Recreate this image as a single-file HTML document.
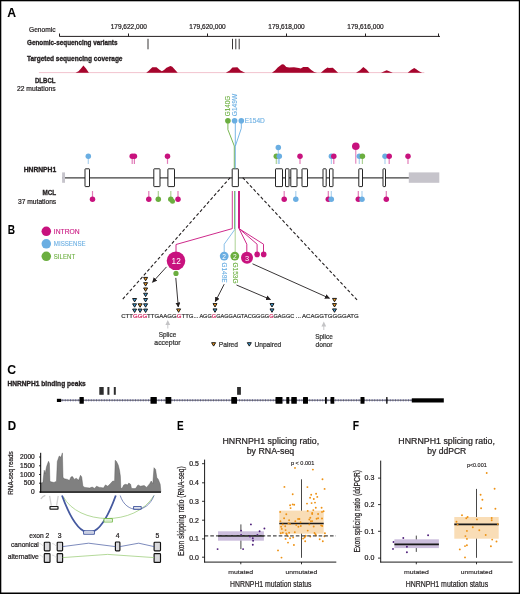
<!DOCTYPE html>
<html><head><meta charset="utf-8"><style>html,body{margin:0;padding:0;background:#fff;}svg{display:block;will-change:transform;}text{font-family:"Liberation Sans",sans-serif;}</style></head>
<body><svg width="520" height="594" viewBox="0 0 520 594" font-family="Liberation Sans, sans-serif"><text x="7.3" y="17.0" font-size="12.2" fill="#000" stroke="#000" stroke-width="0.05" font-weight="bold" text-anchor="start" >A</text>
<text x="29" y="32.4" font-size="6.8" fill="#231F20" stroke="#231F20" stroke-width="0.22" text-anchor="start" textLength="26.5" lengthAdjust="spacingAndGlyphs" >Genomic</text>
<line x1="59.5" y1="36.4" x2="440" y2="36.4" stroke="#231F20" stroke-width="1" />
<line x1="59.5" y1="33.5" x2="59.5" y2="36.5" stroke="#231F20" stroke-width="1" />
<line x1="128.5" y1="33.5" x2="128.5" y2="36.5" stroke="#231F20" stroke-width="1" />
<line x1="207.5" y1="33.5" x2="207.5" y2="36.5" stroke="#231F20" stroke-width="1" />
<line x1="286.5" y1="33.5" x2="286.5" y2="36.5" stroke="#231F20" stroke-width="1" />
<line x1="365.5" y1="33.5" x2="365.5" y2="36.5" stroke="#231F20" stroke-width="1" />
<line x1="438.5" y1="33.5" x2="438.5" y2="36.5" stroke="#231F20" stroke-width="1" />
<text x="128.8" y="28.8" font-size="6.6" fill="#231F20" stroke="#231F20" stroke-width="0.22" text-anchor="middle" textLength="36.3" lengthAdjust="spacingAndGlyphs" >179,622,000</text>
<text x="207.5" y="28.8" font-size="6.6" fill="#231F20" stroke="#231F20" stroke-width="0.22" text-anchor="middle" textLength="36.3" lengthAdjust="spacingAndGlyphs" >179,620,000</text>
<text x="286.5" y="28.8" font-size="6.6" fill="#231F20" stroke="#231F20" stroke-width="0.22" text-anchor="middle" textLength="36.3" lengthAdjust="spacingAndGlyphs" >179,618,000</text>
<text x="365.5" y="28.8" font-size="6.6" fill="#231F20" stroke="#231F20" stroke-width="0.22" text-anchor="middle" textLength="36.3" lengthAdjust="spacingAndGlyphs" >179,616,000</text>
<text x="27" y="44.9" font-size="6.6" fill="#231F20" stroke="#231F20" stroke-width="0.32" font-weight="bold" text-anchor="start" textLength="90.5" lengthAdjust="spacingAndGlyphs" >Genomic-sequencing variants</text>
<line x1="148" y1="38.8" x2="148" y2="49.3" stroke="#231F20" stroke-width="0.9" />
<line x1="232.5" y1="38.8" x2="232.5" y2="49.3" stroke="#231F20" stroke-width="0.9" />
<line x1="235.8" y1="38.8" x2="235.8" y2="49.3" stroke="#231F20" stroke-width="0.9" />
<line x1="239.2" y1="38.8" x2="239.2" y2="49.3" stroke="#231F20" stroke-width="0.9" />
<text x="27" y="61.0" font-size="6.6" fill="#231F20" stroke="#231F20" stroke-width="0.32" font-weight="bold" text-anchor="start" textLength="95.5" lengthAdjust="spacingAndGlyphs" >Targeted sequencing coverage</text>
<line x1="38.9" y1="72.6" x2="424.3" y2="72.6" stroke="#F0BCC8" stroke-width="0.9" />
<path d="M38.90,72.70 L75.50,72.70 L78.50,71.30 L81.00,68.50 L83.40,65.60 L86.00,68.60 L88.90,72.70 L146.20,72.70 L148.50,71.00 L150.50,69.00 L152.30,67.30 L156.50,67.30 L159.50,69.80 L161.90,71.20 L164.00,70.00 L166.50,67.70 L170.40,65.90 L172.30,66.80 L175.00,69.80 L177.70,72.70 L225.80,72.70 L229.70,70.40 L232.40,67.50 L237.40,67.30 L240.50,70.40 L245.10,72.70 L271.90,72.70 L275.00,70.50 L277.70,67.60 L282.00,64.30 L283.90,64.60 L286.30,67.00 L289.20,67.50 L294.00,67.30 L298.80,68.00 L300.80,68.50 L303.20,67.00 L308.00,67.00 L311.30,70.00 L314.20,71.90 L317.10,72.70 L320.80,72.70 L324.60,69.50 L327.50,67.60 L328.90,68.00 L332.80,67.80 L335.20,70.00 L338.10,72.70 L356.00,72.70 L360.00,70.20 L363.30,66.90 L366.50,69.50 L369.40,72.70 L381.00,72.70 L386.70,70.20 L392.80,72.70 L407.70,72.70 L411.00,70.00 L414.20,68.00 L416.30,69.20 L419.00,71.20 L422.10,72.70 L424.30,72.70 Z" fill="#A6052D" stroke="none" stroke-width="1" />
<text x="55.5" y="83.3" font-size="6.8" fill="#231F20" stroke="#231F20" stroke-width="0.32" font-weight="bold" text-anchor="end" textLength="20.5" lengthAdjust="spacingAndGlyphs" >DLBCL</text>
<text x="55.5" y="91.2" font-size="6.6" fill="#231F20" stroke="#231F20" stroke-width="0.22" text-anchor="end" textLength="38.5" lengthAdjust="spacingAndGlyphs" >22 mutations</text>
<text x="56.2" y="172.3" font-size="6.8" fill="#231F20" stroke="#231F20" stroke-width="0.32" font-weight="bold" text-anchor="end" textLength="32.5" lengthAdjust="spacingAndGlyphs" >HNRNPH1</text>
<text x="56.2" y="195.2" font-size="6.8" fill="#231F20" stroke="#231F20" stroke-width="0.32" font-weight="bold" text-anchor="end" textLength="13.7" lengthAdjust="spacingAndGlyphs" >MCL</text>
<text x="56.2" y="203.8" font-size="6.6" fill="#231F20" stroke="#231F20" stroke-width="0.22" text-anchor="end" textLength="38.2" lengthAdjust="spacingAndGlyphs" >37 mutations</text>
<line x1="62" y1="177.8" x2="409" y2="177.8" stroke="#3f3f3f" stroke-width="1.2" />
<rect x="62.1" y="172.4" width="2.9" height="10.4" fill="#C6C4CB" stroke="none" stroke-width="1" />
<rect x="408.8" y="172.4" width="30.5" height="10.4" fill="#C6C4CB" stroke="none" stroke-width="1" />
<rect x="85" y="168.8" width="4.5" height="17.8" fill="#fff" stroke="#1a1a1a" stroke-width="0.95" rx="0.5"/>
<rect x="153.8" y="168.8" width="6.199999999999989" height="17.8" fill="#fff" stroke="#1a1a1a" stroke-width="0.95" rx="0.5"/>
<rect x="167.9" y="168.8" width="6.599999999999994" height="17.8" fill="#fff" stroke="#1a1a1a" stroke-width="0.95" rx="0.5"/>
<rect x="232.2" y="168.8" width="6.200000000000017" height="17.8" fill="#fff" stroke="#1a1a1a" stroke-width="0.95" rx="0.5"/>
<rect x="275.5" y="168.8" width="7.0" height="17.8" fill="#fff" stroke="#1a1a1a" stroke-width="0.95" rx="0.5"/>
<rect x="285.5" y="168.8" width="3.5" height="17.8" fill="#fff" stroke="#1a1a1a" stroke-width="0.95" rx="0.5"/>
<rect x="290.8" y="168.8" width="6.199999999999989" height="17.8" fill="#fff" stroke="#1a1a1a" stroke-width="0.95" rx="0.5"/>
<rect x="302" y="168.8" width="5.5" height="17.8" fill="#fff" stroke="#1a1a1a" stroke-width="0.95" rx="0.5"/>
<rect x="323" y="168.8" width="3.1999999999999886" height="17.8" fill="#fff" stroke="#1a1a1a" stroke-width="0.95" rx="0.5"/>
<rect x="329.5" y="168.8" width="3.5" height="17.8" fill="#fff" stroke="#1a1a1a" stroke-width="0.95" rx="0.5"/>
<rect x="358.8" y="168.8" width="3.6999999999999886" height="17.8" fill="#fff" stroke="#1a1a1a" stroke-width="0.95" rx="0.5"/>
<rect x="383" y="168.8" width="2.5" height="17.8" fill="#fff" stroke="#1a1a1a" stroke-width="0.95" rx="0.5"/>
<line x1="88.3" y1="156.3" x2="88.3" y2="163.9" stroke="#6AAEE2" stroke-width="1.2" opacity="0.55"/>
<circle cx="88.3" cy="156.3" r="2.75" fill="#6AAEE2"/>
<line x1="132.2" y1="156.3" x2="132.2" y2="163.9" stroke="#C8127E" stroke-width="1.2" opacity="0.55"/>
<circle cx="132.2" cy="156.3" r="2.75" fill="#C8127E"/>
<line x1="134.4" y1="156.3" x2="134.4" y2="163.9" stroke="#C8127E" stroke-width="1.2" opacity="0.55"/>
<circle cx="134.4" cy="156.3" r="2.75" fill="#C8127E"/>
<line x1="167.5" y1="156.3" x2="167.5" y2="163.9" stroke="#C8127E" stroke-width="1.2" opacity="0.55"/>
<circle cx="167.5" cy="156.3" r="2.75" fill="#C8127E"/>
<line x1="278.3" y1="147.6" x2="278.3" y2="163.9" stroke="#6AAEE2" stroke-width="1.2" opacity="0.55"/>
<circle cx="278.3" cy="147.6" r="2.75" fill="#6AAEE2"/>
<line x1="276.3" y1="156.3" x2="276.3" y2="163.9" stroke="#6BAE3F" stroke-width="1.2" opacity="0.55"/>
<circle cx="276.3" cy="156.3" r="2.75" fill="#6BAE3F"/>
<line x1="279.3" y1="156.3" x2="279.3" y2="163.9" stroke="#6AAEE2" stroke-width="1.2" opacity="0.55"/>
<circle cx="279.3" cy="156.3" r="2.75" fill="#6AAEE2"/>
<line x1="300" y1="156.3" x2="300" y2="163.9" stroke="#C8127E" stroke-width="1.2" opacity="0.55"/>
<circle cx="300" cy="156.3" r="2.75" fill="#C8127E"/>
<line x1="331.4" y1="156.3" x2="331.4" y2="163.9" stroke="#6AAEE2" stroke-width="1.2" opacity="0.55"/>
<circle cx="331.4" cy="156.3" r="2.75" fill="#6AAEE2"/>
<line x1="333.8" y1="156.3" x2="333.8" y2="163.9" stroke="#C8127E" stroke-width="1.2" opacity="0.55"/>
<circle cx="333.8" cy="156.3" r="2.75" fill="#C8127E"/>
<line x1="355.8" y1="150" x2="355.8" y2="163.7" stroke="#C8127E" stroke-width="1" opacity="0.6"/>
<circle cx="355.8" cy="146.3" r="3.8" fill="#C8127E"/>
<line x1="359.3" y1="156.3" x2="359.3" y2="163.9" stroke="#6AAEE2" stroke-width="1.2" opacity="0.55"/>
<circle cx="359.3" cy="156.3" r="2.75" fill="#6AAEE2"/>
<line x1="362.4" y1="156.3" x2="362.4" y2="163.9" stroke="#6BAE3F" stroke-width="1.2" opacity="0.55"/>
<circle cx="362.4" cy="156.3" r="2.75" fill="#6BAE3F"/>
<line x1="385" y1="156.3" x2="385" y2="163.9" stroke="#6AAEE2" stroke-width="1.2" opacity="0.55"/>
<circle cx="385" cy="156.3" r="2.75" fill="#6AAEE2"/>
<line x1="389.2" y1="156.3" x2="389.2" y2="163.9" stroke="#C8127E" stroke-width="1.2" opacity="0.55"/>
<circle cx="389.2" cy="156.3" r="2.75" fill="#C8127E"/>
<line x1="408" y1="156.3" x2="408" y2="163.9" stroke="#C8127E" stroke-width="1.2" opacity="0.55"/>
<circle cx="408" cy="156.3" r="2.75" fill="#C8127E"/>
<line x1="92.5" y1="191" x2="92.5" y2="199.3" stroke="#C8127E" stroke-width="1.2" opacity="0.55"/>
<circle cx="92.5" cy="199.3" r="2.75" fill="#C8127E"/>
<line x1="148.8" y1="191" x2="148.8" y2="199.3" stroke="#C8127E" stroke-width="1.2" opacity="0.55"/>
<circle cx="148.8" cy="199.3" r="2.75" fill="#C8127E"/>
<line x1="158.3" y1="191" x2="158.3" y2="199.3" stroke="#6BAE3F" stroke-width="1.2" opacity="0.55"/>
<circle cx="158.3" cy="199.3" r="2.75" fill="#6BAE3F"/>
<line x1="170.8" y1="191" x2="170.8" y2="199.3" stroke="#6BAE3F" stroke-width="1.2" opacity="0.55"/>
<circle cx="170.8" cy="199.3" r="2.75" fill="#6BAE3F"/>
<circle cx="172.5" cy="201.3" r="2.5" fill="#6BAE3F"/>
<line x1="178" y1="191" x2="178" y2="199.3" stroke="#C8127E" stroke-width="1.2" opacity="0.55"/>
<circle cx="178" cy="199.3" r="2.75" fill="#C8127E"/>
<line x1="284.2" y1="191" x2="284.2" y2="199.3" stroke="#C8127E" stroke-width="1.2" opacity="0.55"/>
<circle cx="284.2" cy="199.3" r="2.75" fill="#C8127E"/>
<line x1="295.8" y1="191" x2="295.8" y2="199.3" stroke="#6AAEE2" stroke-width="1.2" opacity="0.55"/>
<circle cx="295.8" cy="199.3" r="2.75" fill="#6AAEE2"/>
<line x1="328.3" y1="191" x2="328.3" y2="199.3" stroke="#C8127E" stroke-width="1.2" opacity="0.55"/>
<circle cx="328.3" cy="199.3" r="2.75" fill="#C8127E"/>
<line x1="331.3" y1="191" x2="331.3" y2="199.3" stroke="#6AAEE2" stroke-width="1.2" opacity="0.55"/>
<circle cx="331.3" cy="199.3" r="2.75" fill="#6AAEE2"/>
<line x1="358.3" y1="191" x2="358.3" y2="199.3" stroke="#C8127E" stroke-width="1.2" opacity="0.55"/>
<circle cx="358.3" cy="199.3" r="2.75" fill="#C8127E"/>
<line x1="362" y1="191" x2="362" y2="199.3" stroke="#6AAEE2" stroke-width="1.2" opacity="0.55"/>
<circle cx="362" cy="199.3" r="2.75" fill="#6AAEE2"/>
<line x1="386.3" y1="191" x2="386.3" y2="199.3" stroke="#C8127E" stroke-width="1.2" opacity="0.55"/>
<circle cx="386.3" cy="199.3" r="2.75" fill="#C8127E"/>
<circle cx="227.9" cy="120.8" r="2.8" fill="#6BAE3F"/>
<circle cx="234.6" cy="120.8" r="2.8" fill="#6AAEE2"/>
<circle cx="241.3" cy="120.8" r="2.8" fill="#6AAEE2"/>
<path d="M227.9,123 L227.9,129.6 L234.3,146 L234.3,168.5" fill="none" stroke="#6BAE3F" stroke-width="0.9" />
<line x1="235.3" y1="123" x2="235.3" y2="168.5" stroke="#6AAEE2" stroke-width="0.9" />
<path d="M241.3,123 L241.3,128.3 L235.4,146" fill="none" stroke="#6AAEE2" stroke-width="0.9" />
<text x="0" y="0" font-size="6.7" fill="#6BAE3F" stroke="#6BAE3F" stroke-width="0.1" text-anchor="start" textLength="20.4" lengthAdjust="spacingAndGlyphs" transform="translate(229.6,116.2) rotate(-90)">G140G</text>
<text x="0" y="0" font-size="6.7" fill="#6AAEE2" stroke="#6AAEE2" stroke-width="0.1" text-anchor="start" textLength="22.4" lengthAdjust="spacingAndGlyphs" transform="translate(236.8,116.2) rotate(-90)">G149W</text>
<text x="244.7" y="123.1" font-size="6.3" fill="#6AAEE2" stroke="#6AAEE2" stroke-width="0.1" text-anchor="start" textLength="20.2" lengthAdjust="spacingAndGlyphs" >E154D</text>
<line x1="230.2" y1="177.6" x2="122" y2="300" stroke="#231F20" stroke-width="1.1" stroke-dasharray="3.2,2.1"/>
<line x1="242.7" y1="177.6" x2="358.5" y2="301.5" stroke="#231F20" stroke-width="1.1" stroke-dasharray="3.2,2.1"/>
<text x="7.8" y="233.5" font-size="12.2" fill="#000" stroke="#000" stroke-width="0.05" font-weight="bold" text-anchor="start" textLength="7.3" lengthAdjust="spacingAndGlyphs" >B</text>
<circle cx="46.3" cy="231.3" r="4.75" fill="#C8127E"/>
<text x="53.8" y="233.9" font-size="6.4" fill="#C8127E" stroke="#C8127E" stroke-width="0.1" text-anchor="start" textLength="25.8" lengthAdjust="spacingAndGlyphs" >INTRON</text>
<circle cx="46.3" cy="243.8" r="4.75" fill="#6AAEE2"/>
<text x="53.8" y="246.4" font-size="6.4" fill="#6AAEE2" stroke="#6AAEE2" stroke-width="0.1" text-anchor="start" textLength="31.8" lengthAdjust="spacingAndGlyphs" >MISSENSE</text>
<circle cx="46.3" cy="256.3" r="4.75" fill="#6BAE3F"/>
<text x="53.8" y="258.90000000000003" font-size="6.4" fill="#6BAE3F" stroke="#6BAE3F" stroke-width="0.1" text-anchor="start" textLength="21.3" lengthAdjust="spacingAndGlyphs" >SILENT</text>
<line x1="232.3" y1="191" x2="232.3" y2="228.6" stroke="#C8127E" stroke-width="0.9" opacity="0.9"/>
<line x1="234.6" y1="191" x2="234.6" y2="229" stroke="#6BAE3F" stroke-width="0.9" />
<line x1="235.3" y1="191" x2="235.3" y2="229" stroke="#6AAEE2" stroke-width="0.6" />
<line x1="239" y1="191" x2="239" y2="228.6" stroke="#C8127E" stroke-width="1.9" />
<path d="M232.3,228.6 L176,244.5 L176,252" fill="none" stroke="#C8127E" stroke-width="0.9" />
<path d="M235,229.2 L224.2,244.2 L224.2,252" fill="none" stroke="#6AAEE2" stroke-width="0.8" />
<path d="M235.2,229 L235.2,252" fill="none" stroke="#6BAE3F" stroke-width="0.8" opacity="0.7"/>
<path d="M239,228.6 L246.8,244.2 L246.8,252" fill="none" stroke="#C8127E" stroke-width="0.9" />
<path d="M239,228.6 L257.1,244.2 L257.1,252" fill="none" stroke="#C8127E" stroke-width="0.9" />
<path d="M239,228.6 L263.5,244.2 L263.5,252" fill="none" stroke="#C8127E" stroke-width="0.9" />
<circle cx="176" cy="260.8" r="9.3" fill="#C8127E"/>
<text x="176.2" y="264.2" font-size="9.4" fill="#fff" stroke="#fff" stroke-width="0" text-anchor="middle" textLength="9.2" lengthAdjust="spacingAndGlyphs" >12</text>
<circle cx="176" cy="273.4" r="2.6" fill="#6BAE3F"/>
<circle cx="224.2" cy="256.1" r="4.4" fill="#6AAEE2"/>
<text x="224.2" y="258.6" font-size="6.6" fill="#fff" stroke="#fff" stroke-width="0" text-anchor="middle" >2</text>
<circle cx="234.8" cy="256.1" r="4.4" fill="#6BAE3F"/>
<text x="234.8" y="258.6" font-size="6.6" fill="#fff" stroke="#fff" stroke-width="0" text-anchor="middle" >2</text>
<circle cx="247" cy="257.8" r="6" fill="#C8127E"/>
<text x="247" y="260.5" font-size="7.4" fill="#fff" stroke="#fff" stroke-width="0" text-anchor="middle" >3</text>
<circle cx="257.1" cy="254.4" r="2.8" fill="#C8127E"/>
<circle cx="263.7" cy="254.4" r="2.8" fill="#C8127E"/>
<text x="0" y="0" font-size="6.4" fill="#6AAEE2" stroke="#6AAEE2" stroke-width="0.1" text-anchor="start" textLength="20" lengthAdjust="spacingAndGlyphs" transform="translate(221.5,262.5) rotate(90)">G149E</text>
<text x="0" y="0" font-size="6.4" fill="#6BAE3F" stroke="#6BAE3F" stroke-width="0.1" text-anchor="start" textLength="21" lengthAdjust="spacingAndGlyphs" transform="translate(232.8,262.5) rotate(90)">G153G</text>
<defs><marker id="ah" viewBox="0 0 10 10" refX="9" refY="5" markerWidth="5.6" markerHeight="5.6" markerUnits="strokeWidth" orient="auto"><path d="M0,0 L10,5 L0,10 z" fill="#231F20"/></marker><marker id="ahg" viewBox="0 0 10 10" refX="9" refY="5" markerWidth="4" markerHeight="4" orient="auto"><path d="M0,0 L10,5 L0,10 z" fill="#BBBBBB"/></marker></defs>
<line x1="166.5" y1="266.9" x2="152.5" y2="282.3" stroke="#231F20" stroke-width="0.9" marker-end="url(#ah)"/>
<line x1="175.8" y1="277.9" x2="178.3" y2="307" stroke="#231F20" stroke-width="0.9" marker-end="url(#ah)"/>
<line x1="224.2" y1="284.2" x2="215.3" y2="301.6" stroke="#231F20" stroke-width="0.9" marker-end="url(#ah)"/>
<line x1="236.5" y1="285" x2="270.5" y2="299.5" stroke="#231F20" stroke-width="0.9" marker-end="url(#ah)"/>
<line x1="252.5" y1="263.8" x2="329.5" y2="298.3" stroke="#231F20" stroke-width="0.9" marker-end="url(#ah)"/>
<path d="M143.6,277.4 L147.6,277.4 L145.6,280.8 Z" fill="#F39A1E" stroke="#111" stroke-width="0.95" stroke-linejoin="round"/>
<path d="M143.6,282.67999999999995 L147.6,282.67999999999995 L145.6,286.08 Z" fill="#F39A1E" stroke="#111" stroke-width="0.95" stroke-linejoin="round"/>
<path d="M143.6,287.96 L147.6,287.96 L145.6,291.36 Z" fill="#F39A1E" stroke="#111" stroke-width="0.95" stroke-linejoin="round"/>
<path d="M143.6,293.23999999999995 L147.6,293.23999999999995 L145.6,296.64 Z" fill="#3FA0DC" stroke="#111" stroke-width="0.95" stroke-linejoin="round"/>
<path d="M143.6,298.52 L147.6,298.52 L145.6,301.92 Z" fill="#3FA0DC" stroke="#111" stroke-width="0.95" stroke-linejoin="round"/>
<path d="M143.6,303.79999999999995 L147.6,303.79999999999995 L145.6,307.2 Z" fill="#3FA0DC" stroke="#111" stroke-width="0.95" stroke-linejoin="round"/>
<path d="M143.6,309.08 L147.6,309.08 L145.6,312.48 Z" fill="#3FA0DC" stroke="#111" stroke-width="0.95" stroke-linejoin="round"/>
<path d="M132.6,298.52 L136.6,298.52 L134.6,301.92 Z" fill="#3FA0DC" stroke="#111" stroke-width="0.95" stroke-linejoin="round"/>
<path d="M132.6,303.79999999999995 L136.6,303.79999999999995 L134.6,307.2 Z" fill="#3FA0DC" stroke="#111" stroke-width="0.95" stroke-linejoin="round"/>
<path d="M132.6,309.08 L136.6,309.08 L134.6,312.48 Z" fill="#3FA0DC" stroke="#111" stroke-width="0.95" stroke-linejoin="round"/>
<path d="M138.1,303.79999999999995 L142.1,303.79999999999995 L140.1,307.2 Z" fill="#F39A1E" stroke="#111" stroke-width="0.95" stroke-linejoin="round"/>
<path d="M138.1,309.08 L142.1,309.08 L140.1,312.48 Z" fill="#3FA0DC" stroke="#111" stroke-width="0.95" stroke-linejoin="round"/>
<path d="M176.6,308.9 L180.6,308.9 L178.6,312.3 Z" fill="#F39A1E" stroke="#111" stroke-width="0.95" stroke-linejoin="round"/>
<path d="M213.0,303.59999999999997 L217.0,303.59999999999997 L215,307.0 Z" fill="#F39A1E" stroke="#111" stroke-width="0.95" stroke-linejoin="round"/>
<path d="M213.0,308.9 L217.0,308.9 L215,312.3 Z" fill="#3FA0DC" stroke="#111" stroke-width="0.95" stroke-linejoin="round"/>
<path d="M270.0,303.59999999999997 L274.0,303.59999999999997 L272,307.0 Z" fill="#3FA0DC" stroke="#111" stroke-width="0.95" stroke-linejoin="round"/>
<path d="M270.0,308.9 L274.0,308.9 L272,312.3 Z" fill="#3FA0DC" stroke="#111" stroke-width="0.95" stroke-linejoin="round"/>
<path d="M332.5,298.4 L336.5,298.4 L334.5,301.8 Z" fill="#F39A1E" stroke="#111" stroke-width="0.95" stroke-linejoin="round"/>
<path d="M332.5,303.59999999999997 L336.5,303.59999999999997 L334.5,307.0 Z" fill="#F39A1E" stroke="#111" stroke-width="0.95" stroke-linejoin="round"/>
<path d="M332.5,308.9 L336.5,308.9 L334.5,312.3 Z" fill="#3FA0DC" stroke="#111" stroke-width="0.95" stroke-linejoin="round"/>
<text x="121.2" y="318.1" font-size="5.75" textLength="72.4" lengthAdjust="spacingAndGlyphs" stroke-width="0.2"><tspan fill="#333" stroke="#333">CTT</tspan><tspan fill="#D1245E" stroke="#D1245E">GGG</tspan><tspan fill="#333" stroke="#333">TTGAAGG</tspan><tspan fill="#D1245E" stroke="#D1245E">G</tspan><tspan fill="#333" stroke="#333">TTG</tspan></text>
<text x="193.4" y="318.1" font-size="5.75" textLength="5.2" lengthAdjust="spacingAndGlyphs" stroke-width="0.2"><tspan fill="#333" stroke="#333">...</tspan></text>
<text x="199.4" y="318.1" font-size="5.75" textLength="94.9" lengthAdjust="spacingAndGlyphs" stroke-width="0.2"><tspan fill="#333" stroke="#333">AGG</tspan><tspan fill="#D1245E" stroke="#D1245E">G</tspan><tspan fill="#333" stroke="#333">GAGGAGTACGGGG</tspan><tspan fill="#D1245E" stroke="#D1245E">G</tspan><tspan fill="#333" stroke="#333">GAGGC</tspan></text>
<text x="295.6" y="318.1" font-size="5.75" textLength="5.6" lengthAdjust="spacingAndGlyphs" stroke-width="0.2"><tspan fill="#333" stroke="#333">...</tspan></text>
<text x="302" y="318.1" font-size="5.75" textLength="56.75" lengthAdjust="spacingAndGlyphs" stroke-width="0.2"><tspan fill="#333" stroke="#333">ACAGGTGGGGATG</tspan></text>
<line x1="167.8" y1="323.4" x2="167.8" y2="328.5" stroke="#C4C4C6" stroke-width="0.9" />
<path d="M167.8,319.9 L170.20000000000002,324.9 L165.4,324.9 Z" fill="#C4C4C6" stroke="none" stroke-width="1" />
<line x1="323.8" y1="324.9" x2="323.8" y2="330.0" stroke="#C4C4C6" stroke-width="0.9" />
<path d="M323.8,321.4 L326.2,326.4 L321.40000000000003,326.4 Z" fill="#C4C4C6" stroke="none" stroke-width="1" />
<text x="167.5" y="336.9" font-size="6.6" fill="#333" stroke="#333" stroke-width="0.22" text-anchor="middle" textLength="17.5" lengthAdjust="spacingAndGlyphs" >Splice</text>
<text x="167.5" y="345.4" font-size="6.6" fill="#333" stroke="#333" stroke-width="0.22" text-anchor="middle" textLength="26.3" lengthAdjust="spacingAndGlyphs" >acceptor</text>
<text x="324" y="338.5" font-size="6.6" fill="#333" stroke="#333" stroke-width="0.22" text-anchor="middle" textLength="17.5" lengthAdjust="spacingAndGlyphs" >Splice</text>
<text x="324" y="347.0" font-size="6.6" fill="#333" stroke="#333" stroke-width="0.22" text-anchor="middle" textLength="17" lengthAdjust="spacingAndGlyphs" >donor</text>
<path d="M211.6,342.7 L215.6,342.7 L213.6,346.1 Z" fill="#F39A1E" stroke="#111" stroke-width="0.95" stroke-linejoin="round"/>
<text x="218.8" y="346.8" font-size="6.4" fill="#333" stroke="#333" stroke-width="0.22" text-anchor="start" textLength="19.2" lengthAdjust="spacingAndGlyphs" >Paired</text>
<path d="M247.3,342.7 L251.3,342.7 L249.3,346.1 Z" fill="#3FA0DC" stroke="#111" stroke-width="0.95" stroke-linejoin="round"/>
<text x="254.5" y="346.8" font-size="6.4" fill="#333" stroke="#333" stroke-width="0.22" text-anchor="start" textLength="26.8" lengthAdjust="spacingAndGlyphs" >Unpaired</text>
<text x="7.3" y="373.8" font-size="12.2" fill="#000" stroke="#000" stroke-width="0.05" font-weight="bold" text-anchor="start" >C</text>
<text x="7.5" y="386.2" font-size="6.6" fill="#231F20" stroke="#231F20" stroke-width="0.32" font-weight="bold" text-anchor="start" textLength="78.3" lengthAdjust="spacingAndGlyphs" >HNRNPH1 binding peaks</text>
<rect x="99.3" y="387" width="4.400000000000006" height="7.8" fill="#2E2E2E" stroke="none" stroke-width="1" />
<rect x="107.4" y="387" width="2.0" height="7.8" fill="#2E2E2E" stroke="none" stroke-width="1" />
<rect x="113.8" y="387" width="2.0" height="7.8" fill="#2E2E2E" stroke="none" stroke-width="1" />
<rect x="237.1" y="387" width="3.8000000000000114" height="7.8" fill="#2E2E2E" stroke="none" stroke-width="1" />
<line x1="57" y1="400.2" x2="443" y2="400.2" stroke="#A0A0D0" stroke-width="2.6" stroke-dasharray="1,1.6"/>
<line x1="57" y1="400.2" x2="443" y2="400.2" stroke="#2A2A35" stroke-width="0.8" />
<rect x="56.9" y="398.8" width="4.3" height="3.2" fill="#000" stroke="none" stroke-width="1" />
<rect x="79.5" y="396.9" width="4.299999999999997" height="6.9" fill="#000" stroke="none" stroke-width="1" rx="0.5"/>
<rect x="150.5" y="396.9" width="6.300000000000011" height="6.9" fill="#000" stroke="none" stroke-width="1" rx="0.5"/>
<rect x="165.5" y="396.9" width="5.800000000000011" height="6.9" fill="#000" stroke="none" stroke-width="1" rx="0.5"/>
<rect x="231.3" y="396.9" width="5.699999999999989" height="6.9" fill="#000" stroke="none" stroke-width="1" rx="0.5"/>
<rect x="275.5" y="396.9" width="7.0" height="6.9" fill="#000" stroke="none" stroke-width="1" rx="0.5"/>
<rect x="286.3" y="396.9" width="3.0" height="6.9" fill="#000" stroke="none" stroke-width="1" rx="0.5"/>
<rect x="291.3" y="396.9" width="5.5" height="6.9" fill="#000" stroke="none" stroke-width="1" rx="0.5"/>
<rect x="303" y="396.9" width="5" height="6.9" fill="#000" stroke="none" stroke-width="1" rx="0.5"/>
<rect x="325" y="396.9" width="1.8000000000000114" height="6.9" fill="#000" stroke="none" stroke-width="1" rx="0.5"/>
<rect x="330.5" y="396.9" width="3.8000000000000114" height="6.9" fill="#000" stroke="none" stroke-width="1" rx="0.5"/>
<rect x="360.5" y="396.9" width="4.0" height="6.9" fill="#000" stroke="none" stroke-width="1" rx="0.5"/>
<rect x="386.2" y="396.9" width="1.3000000000000114" height="6.9" fill="#000" stroke="none" stroke-width="1" rx="0.5"/>
<rect x="411.8" y="398.3" width="32" height="4.2" fill="#000" stroke="none" stroke-width="1" />
<text x="7.8" y="429.8" font-size="12.2" fill="#000" stroke="#000" stroke-width="0.05" font-weight="bold" text-anchor="start" textLength="8.4" lengthAdjust="spacingAndGlyphs" >D</text>
<path d="M40.7,492 L40.7,483.1 L42.9,482.5 L44.2,470.2 L45.1,473.8 L46.6,466.5 L48.5,461.3 L49.4,463.4 L49.9,481.2 L50.9,481.8 L54.0,482.5 L56.5,481.2 L57.3,461.5 L59.2,456.0 L60.8,457.2 L61.4,456.0 L62.4,452.9 L63.0,477.5 L64.5,478.8 L67.5,479.4 L69.4,480.6 L71.0,476.9 L72.5,476.6 L74.3,479.4 L76.2,478.2 L78.6,480.2 L80.5,475.3 L81.7,476.9 L82.9,486.2 L84.8,487.4 L89.7,488.0 L92.2,487.1 L94.6,488.4 L96.5,486.2 L99.5,487.4 L100.5,487.4 L103.5,488.0 L105.4,484.9 L107.8,486.2 L110.3,483.7 L112.8,481.0 L114.6,481.2 L115.2,460.3 L116.5,461.5 L118.3,465.2 L119.5,470.2 L120.4,476.3 L120.8,488.0 L122.0,488.6 L123.8,484.9 L125.7,484.3 L127.5,484.9 L128.8,483.1 L130.6,484.3 L131.5,488.4 L133.7,488.6 L135.5,488.6 L138.0,484.9 L140.5,486.2 L144.2,485.5 L146.6,487.4 L149.7,483.7 L151.2,481.0 L152.8,483.7 L154.0,467.7 L155.6,469.5 L156.8,477.5 L158.3,479.4 L160.2,484.3 L160.8,491.0 L160.8,492 Z" fill="#808080" stroke="#4D4D4D" stroke-width="0.4" />
<line x1="40.7" y1="452.8" x2="40.7" y2="492.6" stroke="#000" stroke-width="1" />
<line x1="40" y1="492.1" x2="161" y2="492.1" stroke="#000" stroke-width="1.4" />
<line x1="39" y1="457" x2="40.7" y2="457" stroke="#000" stroke-width="0.8" />
<text x="34.8" y="459.2" font-size="6.3" fill="#231F20" stroke="#231F20" stroke-width="0.22" text-anchor="end" textLength="14.7" lengthAdjust="spacingAndGlyphs" >2000</text>
<line x1="39" y1="465.8" x2="40.7" y2="465.8" stroke="#000" stroke-width="0.8" />
<text x="34.8" y="468.0" font-size="6.3" fill="#231F20" stroke="#231F20" stroke-width="0.22" text-anchor="end" textLength="14.7" lengthAdjust="spacingAndGlyphs" >1500</text>
<line x1="39" y1="474.5" x2="40.7" y2="474.5" stroke="#000" stroke-width="0.8" />
<text x="34.8" y="476.7" font-size="6.3" fill="#231F20" stroke="#231F20" stroke-width="0.22" text-anchor="end" textLength="14.7" lengthAdjust="spacingAndGlyphs" >1000</text>
<line x1="39" y1="483.2" x2="40.7" y2="483.2" stroke="#000" stroke-width="0.8" />
<text x="34.8" y="485.4" font-size="6.3" fill="#231F20" stroke="#231F20" stroke-width="0.22" text-anchor="end" textLength="11" lengthAdjust="spacingAndGlyphs" >500</text>
<line x1="39" y1="492" x2="40.7" y2="492" stroke="#000" stroke-width="0.8" />
<text x="34.8" y="494.2" font-size="6.3" fill="#231F20" stroke="#231F20" stroke-width="0.22" text-anchor="end" textLength="3.7" lengthAdjust="spacingAndGlyphs" >0</text>
<text x="0" y="0" font-size="6.6" fill="#231F20" stroke="#231F20" stroke-width="0.22" text-anchor="start" textLength="43.5" lengthAdjust="spacingAndGlyphs" transform="translate(12.9,494.8) rotate(-90)">RNA-seq reads</text>
<path d="M40.9,499 Q42.5,496.5 45.3,495.4" fill="none" stroke="#C8C8C8" stroke-width="1.3" />
<line x1="49.6" y1="495.8" x2="51.3" y2="505.6" stroke="#D2D2D2" stroke-width="1.3" />
<line x1="58.2" y1="495.8" x2="56.6" y2="505.6" stroke="#D2D2D2" stroke-width="1.3" />
<rect x="49.4" y="505.9" width="9.2" height="3.8" fill="#1a1a1a" stroke="none" stroke-width="1" rx="0.9"/>
<rect x="50.6" y="507" width="6.8" height="1.6" fill="#F0F0F0" stroke="none" stroke-width="1" />
<path d="M63.3,496.6 C78,525 135,527 154,495.5" fill="none" stroke="#93C96E" stroke-width="0.7" />
<path d="M62,495.5 Q89,569.5 115.8,495.5" fill="none" stroke="#45599F" stroke-width="1.8" />
<path d="M120.2,495.5 C126,514 147,514 154,495.5" fill="none" stroke="#45599F" stroke-width="0.7" />
<rect x="83.1" y="530.2" width="11.800000000000011" height="4.5" fill="#45599F" stroke="none" stroke-width="1" rx="0.8"/>
<rect x="84.19999999999999" y="531.2" width="9.600000000000012" height="2.5" fill="#fff" stroke="none" stroke-width="1" />
<rect x="84.89999999999999" y="531.7" width="8.200000000000012" height="1.5" fill="#45599F" stroke="none" stroke-width="1" opacity="0.3"/>
<rect x="103.5" y="518.1" width="9.400000000000006" height="4.5" fill="#7DBE55" stroke="none" stroke-width="1" rx="0.8"/>
<rect x="104.6" y="519.1" width="7.2000000000000055" height="2.5" fill="#fff" stroke="none" stroke-width="1" />
<rect x="105.3" y="519.6" width="5.800000000000006" height="1.5" fill="#7DBE55" stroke="none" stroke-width="1" opacity="0.3"/>
<rect x="133.1" y="505.9" width="8.599999999999994" height="3.8000000000000114" fill="#45599F" stroke="none" stroke-width="1" rx="0.8"/>
<rect x="134.2" y="506.9" width="6.399999999999994" height="1.8000000000000114" fill="#fff" stroke="none" stroke-width="1" />
<rect x="134.9" y="507.4" width="4.999999999999995" height="0.8000000000000114" fill="#45599F" stroke="none" stroke-width="1" opacity="0.3"/>
<text x="49.2" y="537.6" font-size="6.8" fill="#231F20" stroke="#231F20" stroke-width="0.22" text-anchor="end" textLength="20" lengthAdjust="spacingAndGlyphs" >exon 2</text>
<text x="59.6" y="537.6" font-size="6.8" fill="#231F20" stroke="#231F20" stroke-width="0.22" text-anchor="middle" >3</text>
<text x="117.6" y="537.6" font-size="6.8" fill="#231F20" stroke="#231F20" stroke-width="0.22" text-anchor="middle" >4</text>
<text x="157.3" y="537.6" font-size="6.8" fill="#231F20" stroke="#231F20" stroke-width="0.22" text-anchor="middle" >5</text>
<text x="38.8" y="546.8" font-size="6.8" fill="#231F20" stroke="#231F20" stroke-width="0.22" text-anchor="end" textLength="27.7" lengthAdjust="spacingAndGlyphs" >canonical</text>
<text x="38.8" y="558.8" font-size="6.8" fill="#231F20" stroke="#231F20" stroke-width="0.22" text-anchor="end" textLength="31.1" lengthAdjust="spacingAndGlyphs" >alternative</text>
<rect x="44.3" y="542.2" width="5.700000000000003" height="8.599999999999909" fill="#D9D9DC" stroke="#111" stroke-width="1.15" rx="0.7"/>
<rect x="44.3" y="553.6" width="5.700000000000003" height="8.799999999999955" fill="#D9D9DC" stroke="#111" stroke-width="1.15" rx="0.7"/>
<rect x="57.2" y="542.2" width="5.399999999999999" height="8.599999999999909" fill="#D9D9DC" stroke="#111" stroke-width="1.15" rx="0.7"/>
<rect x="57.2" y="553.6" width="5.399999999999999" height="8.799999999999955" fill="#D9D9DC" stroke="#111" stroke-width="1.15" rx="0.7"/>
<rect x="154.1" y="542.2" width="6.400000000000006" height="8.599999999999909" fill="#D9D9DC" stroke="#111" stroke-width="1.15" rx="0.7"/>
<rect x="154.1" y="553.6" width="6.400000000000006" height="8.799999999999955" fill="#D9D9DC" stroke="#111" stroke-width="1.15" rx="0.7"/>
<rect x="115.4" y="542" width="4.5" height="8.799999999999955" fill="#D9D9DC" stroke="#111" stroke-width="1.15" rx="0.7"/>
<path d="M39.5,543.5 Q41,543 43.5,546.5" fill="none" stroke="#C8C8C8" stroke-width="0.6" />
<path d="M52,543.5 Q54,543 56.5,546.5" fill="none" stroke="#C8C8C8" stroke-width="0.6" />
<path d="M39.5,555 Q41,554.5 43.5,558" fill="none" stroke="#C8C8C8" stroke-width="0.6" />
<path d="M52,555 Q54,554.5 56.5,558" fill="none" stroke="#C8C8C8" stroke-width="0.6" />
<path d="M62.6,546.6 L88.6,543.2 L115.4,546.6" fill="none" stroke="#45599F" stroke-width="0.7" />
<path d="M119.9,546.6 L138.7,543.2 L154.1,546.6" fill="none" stroke="#45599F" stroke-width="0.7" />
<path d="M62.6,557.6 L107.6,554.4 L154.1,557.6" fill="none" stroke="#93C96E" stroke-width="0.7" />
<text x="176.9" y="430.0" font-size="12.2" fill="#000" stroke="#000" stroke-width="0.05" font-weight="bold" text-anchor="start" textLength="6.7" lengthAdjust="spacingAndGlyphs" >E</text>
<text x="270.8" y="444.3" font-size="8.4" fill="#231F20" stroke="#231F20" stroke-width="0.22" text-anchor="middle" textLength="96.6" lengthAdjust="spacingAndGlyphs" >HNRNPH1 splicing ratio,</text>
<text x="270.5" y="454" font-size="8.4" fill="#231F20" stroke="#231F20" stroke-width="0.22" text-anchor="middle" textLength="47.6" lengthAdjust="spacingAndGlyphs" >by RNA-seq</text>
<line x1="240.9" y1="524.4" x2="240.9" y2="549.1" stroke="#333" stroke-width="0.9" />
<line x1="301.5" y1="479.3" x2="301.5" y2="557.8" stroke="#333" stroke-width="0.9" />
<rect x="218" y="531.3" width="45.9" height="9.4" fill="#CCBEDD" stroke="none" stroke-width="1" />
<rect x="279.3" y="510.6" width="44.4" height="23.1" fill="#F9DDB6" stroke="none" stroke-width="1" />
<line x1="218" y1="535.9" x2="263.9" y2="535.9" stroke="#2b2b2b" stroke-width="1.7" />
<line x1="279.3" y1="523.5" x2="323.7" y2="523.5" stroke="#1a1a1a" stroke-width="1.6" />
<circle cx="217.6" cy="549.1" r="0.95" fill="#4E1F7A"/>
<circle cx="241.1" cy="530.6" r="0.95" fill="#4E1F7A"/>
<circle cx="241.1" cy="535" r="0.95" fill="#4E1F7A"/>
<circle cx="243.1" cy="549.1" r="0.95" fill="#4E1F7A"/>
<circle cx="250.9" cy="524.4" r="0.95" fill="#4E1F7A"/>
<circle cx="250" cy="536.5" r="0.95" fill="#4E1F7A"/>
<circle cx="252.8" cy="538.3" r="0.95" fill="#4E1F7A"/>
<circle cx="253.1" cy="540.7" r="0.95" fill="#4E1F7A"/>
<circle cx="252.8" cy="544.8" r="0.95" fill="#4E1F7A"/>
<circle cx="257.4" cy="535" r="0.95" fill="#4E1F7A"/>
<circle cx="259.6" cy="531.3" r="0.95" fill="#4E1F7A"/>
<circle cx="264.4" cy="528.5" r="0.95" fill="#4E1F7A"/>
<circle cx="295" cy="467.9" r="0.95" fill="#EE9214"/>
<circle cx="312.9" cy="469.6" r="0.95" fill="#EE9214"/>
<circle cx="322.5" cy="479.3" r="0.95" fill="#EE9214"/>
<circle cx="284.4" cy="486.9" r="0.95" fill="#EE9214"/>
<circle cx="307.4" cy="487.1" r="0.95" fill="#EE9214"/>
<circle cx="324.6" cy="488.9" r="0.95" fill="#EE9214"/>
<circle cx="292.7" cy="494.3" r="0.95" fill="#EE9214"/>
<circle cx="311.2" cy="494.7" r="0.95" fill="#EE9214"/>
<circle cx="316.1" cy="493.8" r="0.95" fill="#EE9214"/>
<circle cx="310.1" cy="497.7" r="0.95" fill="#EE9214"/>
<circle cx="313.8" cy="499" r="0.95" fill="#EE9214"/>
<circle cx="317.3" cy="496.9" r="0.95" fill="#EE9214"/>
<circle cx="290.1" cy="505.2" r="0.95" fill="#EE9214"/>
<circle cx="292.7" cy="504.4" r="0.95" fill="#EE9214"/>
<circle cx="294.2" cy="504.7" r="0.95" fill="#EE9214"/>
<circle cx="290.6" cy="508.1" r="0.95" fill="#EE9214"/>
<circle cx="307" cy="503.6" r="0.95" fill="#EE9214"/>
<circle cx="311.6" cy="503.1" r="0.95" fill="#EE9214"/>
<circle cx="315" cy="502.6" r="0.95" fill="#EE9214"/>
<circle cx="315.8" cy="507.8" r="0.95" fill="#EE9214"/>
<circle cx="321.6" cy="507.8" r="0.95" fill="#EE9214"/>
<circle cx="313.3" cy="510.1" r="0.95" fill="#EE9214"/>
<circle cx="307.7" cy="510.9" r="0.95" fill="#EE9214"/>
<circle cx="322" cy="511.9" r="0.95" fill="#EE9214"/>
<circle cx="323.6" cy="511.2" r="0.95" fill="#EE9214"/>
<circle cx="280.2" cy="511.9" r="0.95" fill="#EE9214"/>
<circle cx="312.2" cy="513" r="0.95" fill="#EE9214"/>
<circle cx="312.2" cy="514" r="0.95" fill="#EE9214"/>
<circle cx="286.3" cy="514.3" r="0.95" fill="#EE9214"/>
<circle cx="318.1" cy="514" r="0.95" fill="#EE9214"/>
<circle cx="284.1" cy="518.2" r="0.95" fill="#EE9214"/>
<circle cx="298.1" cy="519" r="0.95" fill="#EE9214"/>
<circle cx="299.4" cy="519" r="0.95" fill="#EE9214"/>
<circle cx="310.3" cy="517.7" r="0.95" fill="#EE9214"/>
<circle cx="309.3" cy="519.5" r="0.95" fill="#EE9214"/>
<circle cx="316.6" cy="518.7" r="0.95" fill="#EE9214"/>
<circle cx="318.1" cy="518.2" r="0.95" fill="#EE9214"/>
<circle cx="322" cy="518.5" r="0.95" fill="#EE9214"/>
<circle cx="289.1" cy="520.2" r="0.95" fill="#EE9214"/>
<circle cx="280.4" cy="521.3" r="0.95" fill="#EE9214"/>
<circle cx="295.3" cy="521.3" r="0.95" fill="#EE9214"/>
<circle cx="310.9" cy="521.3" r="0.95" fill="#EE9214"/>
<circle cx="312.2" cy="521.1" r="0.95" fill="#EE9214"/>
<circle cx="300.5" cy="522.3" r="0.95" fill="#EE9214"/>
<circle cx="288.5" cy="523.4" r="0.95" fill="#EE9214"/>
<circle cx="290.1" cy="524.1" r="0.95" fill="#EE9214"/>
<circle cx="282.8" cy="524.4" r="0.95" fill="#EE9214"/>
<circle cx="296.3" cy="524.9" r="0.95" fill="#EE9214"/>
<circle cx="309.3" cy="524.4" r="0.95" fill="#EE9214"/>
<circle cx="321.2" cy="525.4" r="0.95" fill="#EE9214"/>
<circle cx="322.3" cy="526" r="0.95" fill="#EE9214"/>
<circle cx="281.1" cy="526.8" r="0.95" fill="#EE9214"/>
<circle cx="285.2" cy="526.2" r="0.95" fill="#EE9214"/>
<circle cx="298.4" cy="526.8" r="0.95" fill="#EE9214"/>
<circle cx="300.8" cy="526" r="0.95" fill="#EE9214"/>
<circle cx="313.7" cy="526.5" r="0.95" fill="#EE9214"/>
<circle cx="281.8" cy="528.9" r="0.95" fill="#EE9214"/>
<circle cx="285.6" cy="530.1" r="0.95" fill="#EE9214"/>
<circle cx="307.7" cy="530.6" r="0.95" fill="#EE9214"/>
<circle cx="294.8" cy="532.2" r="0.95" fill="#EE9214"/>
<circle cx="280.8" cy="533.2" r="0.95" fill="#EE9214"/>
<circle cx="282.8" cy="532.7" r="0.95" fill="#EE9214"/>
<circle cx="286.3" cy="533.4" r="0.95" fill="#EE9214"/>
<circle cx="286.7" cy="534.3" r="0.95" fill="#EE9214"/>
<circle cx="289.1" cy="532.7" r="0.95" fill="#EE9214"/>
<circle cx="314.5" cy="533" r="0.95" fill="#EE9214"/>
<circle cx="315.5" cy="534.3" r="0.95" fill="#EE9214"/>
<circle cx="324.9" cy="533.2" r="0.95" fill="#EE9214"/>
<circle cx="288" cy="536.1" r="0.95" fill="#EE9214"/>
<circle cx="305.2" cy="536.3" r="0.95" fill="#EE9214"/>
<circle cx="305.7" cy="535.8" r="0.95" fill="#EE9214"/>
<circle cx="310.3" cy="536.6" r="0.95" fill="#EE9214"/>
<circle cx="316.1" cy="535.5" r="0.95" fill="#EE9214"/>
<circle cx="324.4" cy="536.3" r="0.95" fill="#EE9214"/>
<circle cx="285.6" cy="538.9" r="0.95" fill="#EE9214"/>
<circle cx="290.1" cy="538.2" r="0.95" fill="#EE9214"/>
<circle cx="293.2" cy="537.4" r="0.95" fill="#EE9214"/>
<circle cx="303.1" cy="538.6" r="0.95" fill="#EE9214"/>
<circle cx="304.6" cy="537.6" r="0.95" fill="#EE9214"/>
<circle cx="319.7" cy="539.3" r="0.95" fill="#EE9214"/>
<circle cx="305.2" cy="541.3" r="0.95" fill="#EE9214"/>
<circle cx="322.8" cy="541.3" r="0.95" fill="#EE9214"/>
<circle cx="288" cy="542.6" r="0.95" fill="#EE9214"/>
<circle cx="293.9" cy="545" r="0.95" fill="#EE9214"/>
<circle cx="278" cy="550.4" r="0.95" fill="#EE9214"/>
<circle cx="281.5" cy="557.6" r="0.95" fill="#EE9214"/>
<line x1="204.6" y1="535.9" x2="336" y2="535.9" stroke="#4a4a4a" stroke-width="1.3" stroke-dasharray="3.6,2.1"/>
<line x1="204.6" y1="459.6" x2="204.6" y2="562.5" stroke="#000" stroke-width="0.9" />
<line x1="204.2" y1="562.1" x2="336.3" y2="562.1" stroke="#000" stroke-width="0.9" />
<line x1="202" y1="463.7" x2="204.6" y2="463.7" stroke="#000" stroke-width="0.8" />
<text x="198.8" y="466.0" font-size="6.6" fill="#231F20" stroke="#231F20" stroke-width="0.22" text-anchor="end" textLength="9.6" lengthAdjust="spacingAndGlyphs" >0.5</text>
<line x1="202" y1="482.8" x2="204.6" y2="482.8" stroke="#000" stroke-width="0.8" />
<text x="198.8" y="485.1" font-size="6.6" fill="#231F20" stroke="#231F20" stroke-width="0.22" text-anchor="end" textLength="9.6" lengthAdjust="spacingAndGlyphs" >0.4</text>
<line x1="202" y1="501.3" x2="204.6" y2="501.3" stroke="#000" stroke-width="0.8" />
<text x="198.8" y="503.6" font-size="6.6" fill="#231F20" stroke="#231F20" stroke-width="0.22" text-anchor="end" textLength="9.6" lengthAdjust="spacingAndGlyphs" >0.3</text>
<line x1="202" y1="520.2" x2="204.6" y2="520.2" stroke="#000" stroke-width="0.8" />
<text x="198.8" y="522.5" font-size="6.6" fill="#231F20" stroke="#231F20" stroke-width="0.22" text-anchor="end" textLength="9.6" lengthAdjust="spacingAndGlyphs" >0.2</text>
<line x1="202" y1="538.9" x2="204.6" y2="538.9" stroke="#000" stroke-width="0.8" />
<text x="198.8" y="541.1999999999999" font-size="6.6" fill="#231F20" stroke="#231F20" stroke-width="0.22" text-anchor="end" textLength="9.6" lengthAdjust="spacingAndGlyphs" >0.1</text>
<line x1="202" y1="557.2" x2="204.6" y2="557.2" stroke="#000" stroke-width="0.8" />
<text x="198.8" y="559.5" font-size="6.6" fill="#231F20" stroke="#231F20" stroke-width="0.22" text-anchor="end" textLength="9.6" lengthAdjust="spacingAndGlyphs" >0.0</text>
<line x1="240.8" y1="562.1" x2="240.8" y2="564.3" stroke="#000" stroke-width="0.8" />
<line x1="301.5" y1="562.1" x2="301.5" y2="564.3" stroke="#000" stroke-width="0.8" />
<text x="302.6" y="464.7" font-size="5.4" fill="#231F20" stroke="#231F20" stroke-width="0.14" text-anchor="middle" textLength="23.3" lengthAdjust="spacingAndGlyphs" >p &lt; 0.001</text>
<text x="240.7" y="574.3" font-size="6.2" fill="#231F20" stroke="#231F20" stroke-width="0.14" text-anchor="middle" textLength="24.9" lengthAdjust="spacingAndGlyphs" >mutated</text>
<text x="301.3" y="574.3" font-size="6.2" fill="#231F20" stroke="#231F20" stroke-width="0.14" text-anchor="middle" textLength="31.7" lengthAdjust="spacingAndGlyphs" >unmutated</text>
<text x="270.8" y="586.6" font-size="8.8" fill="#231F20" stroke="#231F20" stroke-width="0.22" text-anchor="middle" textLength="81.5" lengthAdjust="spacingAndGlyphs" >HNRNPH1 mutation status</text>
<text x="0" y="0" font-size="8.5" fill="#231F20" stroke="#231F20" stroke-width="0.22" text-anchor="start" textLength="89.6" lengthAdjust="spacingAndGlyphs" transform="translate(184.3,555.9) rotate(-90)">Exon skipping ratio (RNA-seq)</text>
<text x="352.8" y="430.0" font-size="12.2" fill="#000" stroke="#000" stroke-width="0.05" font-weight="bold" text-anchor="start" textLength="6.3" lengthAdjust="spacingAndGlyphs" >F</text>
<text x="446.6" y="444.3" font-size="8.4" fill="#231F20" stroke="#231F20" stroke-width="0.22" text-anchor="middle" textLength="96.6" lengthAdjust="spacingAndGlyphs" >HNRNPH1 splicing ratio,</text>
<text x="446.8" y="454" font-size="8.4" fill="#231F20" stroke="#231F20" stroke-width="0.22" text-anchor="middle" textLength="39" lengthAdjust="spacingAndGlyphs" >by ddPCR</text>
<line x1="416.3" y1="535.6" x2="416.3" y2="551.9" stroke="#333" stroke-width="0.9" />
<line x1="476.5" y1="488.9" x2="476.5" y2="557.8" stroke="#333" stroke-width="0.9" />
<rect x="394.4" y="539.3" width="44.5" height="8.8" fill="#CCBEDD" stroke="none" stroke-width="1" />
<rect x="454.3" y="517" width="44.4" height="21.7" fill="#F9DDB6" stroke="none" stroke-width="1" />
<line x1="394.4" y1="544.4" x2="438.9" y2="544.4" stroke="#1a1a1a" stroke-width="1.6" />
<line x1="454.3" y1="524.4" x2="498.7" y2="524.4" stroke="#1a1a1a" stroke-width="1.6" />
<circle cx="393.5" cy="542" r="0.95" fill="#4E1F7A"/>
<circle cx="393" cy="548.9" r="0.95" fill="#4E1F7A"/>
<circle cx="403.3" cy="538" r="0.95" fill="#4E1F7A"/>
<circle cx="406.9" cy="546.7" r="0.95" fill="#4E1F7A"/>
<circle cx="406.9" cy="552.2" r="0.95" fill="#4E1F7A"/>
<circle cx="428.1" cy="535.2" r="0.95" fill="#4E1F7A"/>
<circle cx="486.7" cy="473" r="0.95" fill="#EE9214"/>
<circle cx="494.6" cy="488.7" r="0.95" fill="#EE9214"/>
<circle cx="480.6" cy="494.8" r="0.95" fill="#EE9214"/>
<circle cx="482.4" cy="499.8" r="0.95" fill="#EE9214"/>
<circle cx="481.1" cy="508.3" r="0.95" fill="#EE9214"/>
<circle cx="495.4" cy="508.7" r="0.95" fill="#EE9214"/>
<circle cx="462" cy="515.2" r="0.95" fill="#EE9214"/>
<circle cx="466.3" cy="518.3" r="0.95" fill="#EE9214"/>
<circle cx="467.6" cy="517" r="0.95" fill="#EE9214"/>
<circle cx="476.9" cy="519.4" r="0.95" fill="#EE9214"/>
<circle cx="491.7" cy="518" r="0.95" fill="#EE9214"/>
<circle cx="491.7" cy="520.2" r="0.95" fill="#EE9214"/>
<circle cx="456.5" cy="521.7" r="0.95" fill="#EE9214"/>
<circle cx="457.6" cy="524.6" r="0.95" fill="#EE9214"/>
<circle cx="497.8" cy="524.1" r="0.95" fill="#EE9214"/>
<circle cx="472.8" cy="527.2" r="0.95" fill="#EE9214"/>
<circle cx="466.9" cy="530.9" r="0.95" fill="#EE9214"/>
<circle cx="479.3" cy="530.2" r="0.95" fill="#EE9214"/>
<circle cx="465.4" cy="536.1" r="0.95" fill="#EE9214"/>
<circle cx="485.7" cy="535" r="0.95" fill="#EE9214"/>
<circle cx="466.9" cy="538.9" r="0.95" fill="#EE9214"/>
<circle cx="492.2" cy="539.6" r="0.95" fill="#EE9214"/>
<circle cx="496.5" cy="541.5" r="0.95" fill="#EE9214"/>
<circle cx="466.9" cy="545.2" r="0.95" fill="#EE9214"/>
<circle cx="465" cy="546.1" r="0.95" fill="#EE9214"/>
<circle cx="490.9" cy="546.3" r="0.95" fill="#EE9214"/>
<circle cx="459.8" cy="549.4" r="0.95" fill="#EE9214"/>
<circle cx="465" cy="557.4" r="0.95" fill="#EE9214"/>
<line x1="380.7" y1="460.6" x2="380.7" y2="562.5" stroke="#000" stroke-width="0.9" />
<line x1="380.3" y1="562.1" x2="512.6" y2="562.1" stroke="#000" stroke-width="0.9" />
<line x1="378" y1="478.1" x2="380.7" y2="478.1" stroke="#000" stroke-width="0.8" />
<text x="374.3" y="480.40000000000003" font-size="6.6" fill="#231F20" stroke="#231F20" stroke-width="0.22" text-anchor="end" textLength="9.8" lengthAdjust="spacingAndGlyphs" >0.3</text>
<line x1="378" y1="504.6" x2="380.7" y2="504.6" stroke="#000" stroke-width="0.8" />
<text x="374.3" y="506.90000000000003" font-size="6.6" fill="#231F20" stroke="#231F20" stroke-width="0.22" text-anchor="end" textLength="9.8" lengthAdjust="spacingAndGlyphs" >0.2</text>
<line x1="378" y1="531.3" x2="380.7" y2="531.3" stroke="#000" stroke-width="0.8" />
<text x="374.3" y="533.5999999999999" font-size="6.6" fill="#231F20" stroke="#231F20" stroke-width="0.22" text-anchor="end" textLength="9.8" lengthAdjust="spacingAndGlyphs" >0.1</text>
<line x1="378" y1="558.1" x2="380.7" y2="558.1" stroke="#000" stroke-width="0.8" />
<text x="374.3" y="560.4" font-size="6.6" fill="#231F20" stroke="#231F20" stroke-width="0.22" text-anchor="end" textLength="9.8" lengthAdjust="spacingAndGlyphs" >0.0</text>
<line x1="416.3" y1="562.1" x2="416.3" y2="564.3" stroke="#000" stroke-width="0.8" />
<line x1="476.5" y1="562.1" x2="476.5" y2="564.3" stroke="#000" stroke-width="0.8" />
<text x="476.8" y="466.5" font-size="5.4" fill="#231F20" stroke="#231F20" stroke-width="0.14" text-anchor="middle" textLength="19.8" lengthAdjust="spacingAndGlyphs" >p&lt;0.001</text>
<text x="416.5" y="574.3" font-size="6.2" fill="#231F20" stroke="#231F20" stroke-width="0.14" text-anchor="middle" textLength="24.9" lengthAdjust="spacingAndGlyphs" >mutated</text>
<text x="476.6" y="574.3" font-size="6.2" fill="#231F20" stroke="#231F20" stroke-width="0.14" text-anchor="middle" textLength="31.7" lengthAdjust="spacingAndGlyphs" >unmutated</text>
<text x="446.9" y="586.6" font-size="8.8" fill="#231F20" stroke="#231F20" stroke-width="0.22" text-anchor="middle" textLength="82.5" lengthAdjust="spacingAndGlyphs" >HNRNPH1 mutation status</text>
<text x="0" y="0" font-size="8.5" fill="#231F20" stroke="#231F20" stroke-width="0.22" text-anchor="start" textLength="82.4" lengthAdjust="spacingAndGlyphs" transform="translate(359.9,552.4) rotate(-90)">Exon splicing ratio (ddPCR)</text>
<rect x="0" y="0" width="520" height="1.3" fill="#000" stroke="none" stroke-width="1" />
<rect x="0" y="0" width="1.3" height="594" fill="#000" stroke="none" stroke-width="1" />
<rect x="518.8" y="0" width="1.2" height="594" fill="#000" stroke="none" stroke-width="1" />
<rect x="0" y="592.5" width="520" height="1.5" fill="#000" stroke="none" stroke-width="1" /></svg></body></html>
